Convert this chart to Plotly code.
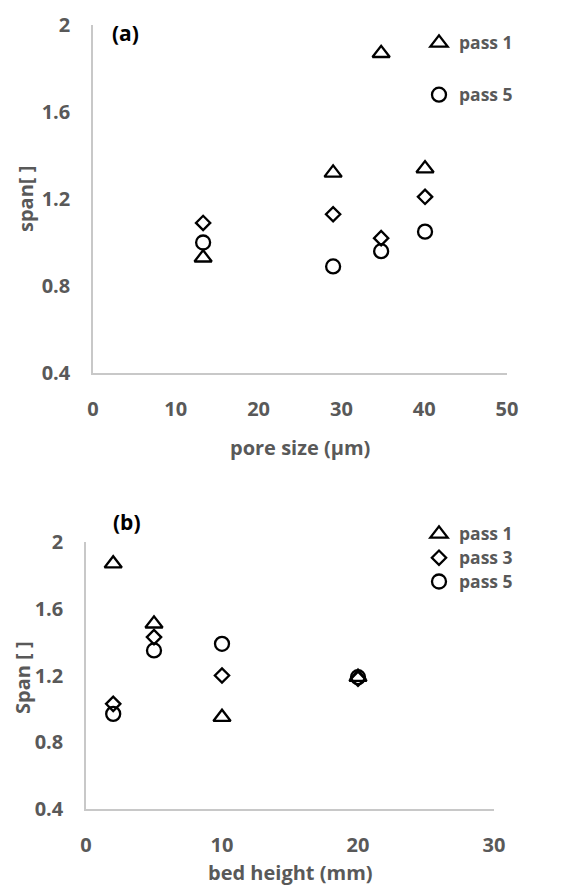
import plotly.graph_objects as go

# Panel (a): span vs pore size
pore_size = [13.3, 29.0, 34.8, 40.1]
a_pass1 = [0.93, 1.32, 1.87, 1.34]
a_pass3 = [1.09, 1.13, 1.02, 1.21]
a_pass5 = [1.00, 0.89, 0.96, 1.05]

# Panel (b): span vs bed height
bed_height = [2, 5, 10, 20]
b_pass1 = [1.87, 1.51, 0.95, 1.19]
b_pass3 = [1.03, 1.43, 1.20, 1.18]
b_pass5 = [0.97, 1.35, 1.39, 1.19]

y_ticks = [0.4, 0.8, 1.2, 1.6, 2]
a_x_ticks = [0, 10, 20, 30, 40, 50]
b_x_ticks = [0, 10, 20, 30]

W, H = 562, 888
GRAY = "#595959"
FONT = "Open Sans"
LINE = "#c8c8c8"

def px(v):
    return v / W

def py(v):
    return 1 - v / H

sym = {"pass 1": "triangle-up-open", "pass 3": "diamond-open", "pass 5": "circle-open"}
msize = {"pass 1": 15, "pass 3": 11, "pass 5": 14}

def legend_label(name):
    return '<span style="font-size:17.5px">' + name + '</span>'

fig = go.Figure()

for name, ys, grp in [("pass 1", a_pass1, "g1"), ("pass 3", a_pass3, "g3"), ("pass 5", a_pass5, "g5")]:
    fig.add_trace(go.Scatter(
        x=pore_size, y=ys, mode="markers", name=legend_label(name),
        marker=dict(symbol=sym[name], size=msize[name], color="black", line=dict(width=2.3, color="black")),
        xaxis="x", yaxis="y", legend="legend", legendgroup=grp,
        showlegend=(name != "pass 3"),
    ))

for name, ys in [("pass 1", b_pass1), ("pass 3", b_pass3), ("pass 5", b_pass5)]:
    fig.add_trace(go.Scatter(
        x=bed_height, y=ys, mode="markers", name=legend_label(name),
        marker=dict(symbol=sym[name], size=msize[name], color="black", line=dict(width=2.3, color="black")),
        xaxis="x2", yaxis="y2", legend="legend2",
    ))

tickfont = dict(family=FONT, size=20, color=GRAY, weight="bold")
axis_common = dict(showgrid=False, zeroline=False, showline=True, linecolor=LINE, linewidth=1.5,
                   ticks="outside", ticklen=17, tickcolor="rgba(0,0,0,0)", tickfont=tickfont,
                   automargin=False)

title_font = dict(family=FONT, size=20, color=GRAY, weight="bold")
legend_font = dict(family=FONT, size=16, color=GRAY, weight="bold")

fig.update_layout(
    width=W, height=H,
    margin=dict(l=0, r=0, t=0, b=0, pad=0),
    paper_bgcolor="white", plot_bgcolor="white",
    xaxis=dict(domain=[px(93), px(507)], range=[0, 50], tickvals=a_x_ticks, anchor="y", **axis_common),
    yaxis=dict(domain=[py(373), py(25)], range=[0.4, 2], tickvals=y_ticks, anchor="x", **axis_common),
    xaxis2=dict(domain=[px(86), px(494)], range=[0, 30], tickvals=b_x_ticks, anchor="y2", **axis_common),
    yaxis2=dict(domain=[py(809), py(542)], range=[0.4, 2], tickvals=y_ticks, anchor="x2", **axis_common),
    legend=dict(x=px(419), y=py(26), xanchor="left", yanchor="top", bgcolor="rgba(0,0,0,0)",
                font=legend_font, tracegroupgap=28, itemwidth=30),
    legend2=dict(x=px(419), y=py(517), xanchor="left", yanchor="top", bgcolor="rgba(0,0,0,0)",
                 font=legend_font, tracegroupgap=0, itemwidth=30),
    annotations=[
        dict(text="pore size (µm)", x=px(300), y=py(447), xref="paper", yref="paper", showarrow=False,
             xanchor="center", yanchor="middle", font=title_font),
        dict(text="span[ ]", x=px(25), y=py(199), xref="paper", yref="paper", showarrow=False, textangle=-90,
             xanchor="center", yanchor="middle", font=title_font),
        dict(text="(a)", x=px(125), y=py(33), xref="paper", yref="paper", showarrow=False,
             xanchor="center", yanchor="middle",
             font=dict(family=FONT, size=21, color="black", weight="bold")),
        dict(text="bed height (mm)", x=px(290), y=py(872), xref="paper", yref="paper", showarrow=False,
             xanchor="center", yanchor="middle", font=title_font),
        dict(text="Span [ ]", x=px(22), y=py(678), xref="paper", yref="paper", showarrow=False, textangle=-90,
             xanchor="center", yanchor="middle", font=title_font),
        dict(text="(b)", x=px(127), y=py(522), xref="paper", yref="paper", showarrow=False,
             xanchor="center", yanchor="middle",
             font=dict(family=FONT, size=21, color="black", weight="bold")),
    ],
)

fig.write_html("out.html", config={"displayModeBar": False},
               post_script="document.body.style.margin='0';")
